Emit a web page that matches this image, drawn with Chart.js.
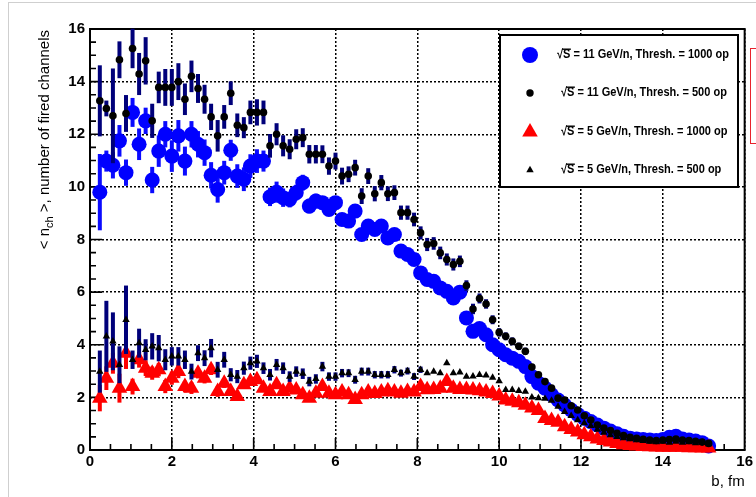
<!DOCTYPE html>
<html>
<head>
<meta charset="utf-8">
<script src="https://cdn.jsdelivr.net/npm/chart.js@4.4.1/dist/chart.umd.min.js"></script>
<style>
  html, body { margin: 0; padding: 0; background: #fff; }
  #wrap { position: relative; width: 756px; height: 497px; overflow: hidden; }
  #pad { position: absolute; left: 8px; top: 2px; width: 900px; height: 700px; border-left: 1px solid #cfcfcf; border-top: 1px solid #cfcfcf; }
  #otherPad { position: absolute; left: 750px; top: 48px; width: 30px; height: 94px; border: 1px solid #e8202a; }
  canvas { position: absolute; left: 0; top: 0; }
</style>
</head>
<body>
<div id="wrap">
  <div id="pad"></div>
  <div id="otherPad"></div>
  <canvas id="chart" width="756" height="497"></canvas>
</div>
<script>
/* impact parameter bin centres, fm */
const bCenters = [
  0.24, 0.40, 0.56, 0.72, 0.88, 1.04, 1.20, 1.36, 1.52, 1.68,
  1.84, 2.00, 2.16, 2.32, 2.48, 2.64, 2.80, 2.96, 3.12, 3.28,
  3.44, 3.60, 3.76, 3.92, 4.08, 4.24, 4.40, 4.56, 4.72, 4.88,
  5.04, 5.20, 5.36, 5.52, 5.68, 5.84, 6.00, 6.16, 6.32, 6.48,
  6.64, 6.80, 6.96, 7.12, 7.28, 7.44, 7.60, 7.76, 7.92, 8.08,
  8.24, 8.40, 8.56, 8.72, 8.88, 9.04, 9.20, 9.36, 9.52, 9.68,
  9.84, 10.00, 10.16, 10.32, 10.48, 10.64, 10.80, 10.96, 11.12, 11.28,
  11.44, 11.60, 11.76, 11.92, 12.08, 12.24, 12.40, 12.56, 12.72, 12.88,
  13.04, 13.20, 13.36, 13.52, 13.68, 13.84, 14.00, 14.16, 14.32, 14.48,
  14.64, 14.80, 14.96, 15.12
];

/* <n_ch> : sqrt(s)=11 GeV/n, threshold 1000 op (blue circles) */
const nch11_1000 = [
  9.80, 10.98, 10.82, 11.75, 10.54, 12.83, 11.62, 12.51, 10.26, 11.36,
  12.00, 11.17, 11.94, 10.98, 12.00, 11.62, 11.30, 10.44, 9.90, 10.54,
  11.39, 10.41, 10.29, 10.79, 10.98, 10.98, 9.62, 9.80, 9.59, 9.52,
  9.78, 10.16, 9.27, 9.46, 9.40, 9.14, 9.40, 8.76, 8.70, 9.08,
  8.19, 8.51, 8.38, 8.51, 8.06, 8.19, 7.56, 7.43, 7.24, 6.73,
  6.48, 6.41, 6.16, 6.03, 5.78, 6.00, 5.02, 4.51, 4.62, 4.38,
  4.00, 3.81, 3.62, 3.49, 3.37, 3.17, 2.79, 2.54, 2.35, 2.10,
  1.90, 1.71, 1.52, 1.35, 1.21, 1.08, 0.95, 0.83, 0.72, 0.62,
  0.52, 0.45, 0.42, 0.40, 0.38, 0.36, 0.40, 0.48, 0.52, 0.42,
  0.38, 0.34, 0.28, 0.15
];
const err11_1000 = [
  1.45, 0.40, 0.50, 0.60, 0.50, 0.55, 0.60, 0.50, 0.50, 0.60,
  0.50, 0.60, 0.60, 0.55, 0.50, 0.50, 0.50, 0.50, 0.50, 0.45,
  0.40, 0.45, 0.45, 0.45, 0.45, 0.40, 0.35, 0.40, 0.35, 0.30,
  0.30, 0.30, 0.28, 0.28, 0.25, 0.25
];

/* sqrt(s)=11 GeV/n, threshold 500 op (black dots) */
const nch11_500 = [
  13.27, 12.98, 12.70, 14.83, 12.79, 15.26, 14.29, 14.79, 12.51, 13.78,
  13.78, 13.78, 14.00, 13.33, 14.20, 13.74, 13.33, 12.66, 11.94, 12.66,
  13.56, 12.34, 12.25, 12.83, 12.83, 12.83, 11.56, 12.00, 11.56, 11.43,
  11.81, 11.87, 11.24, 11.24, 11.24, 10.79, 10.98, 10.41, 10.48, 10.73,
  9.65, 10.41, 9.74, 10.16, 9.74, 9.78, 9.02, 9.02, 8.76, 8.25,
  7.81, 7.85, 7.49, 7.24, 7.05, 7.17, 6.25, 5.36, 5.76, 5.55,
  4.95, 4.47, 4.32, 4.13, 3.94, 3.75, 3.15, 2.86, 2.60, 2.35,
  1.97, 1.90, 1.68, 1.52, 1.30, 1.14, 0.95, 0.83, 0.74, 0.63,
  0.55, 0.48, 0.44, 0.41, 0.38, 0.36, 0.38, 0.40, 0.42, 0.38,
  0.36, 0.33, 0.30, 0.25
];
const err11_500 = [
  1.35, 0.30, 1.80, 0.70, 0.70, 0.75, 0.80, 0.90, 0.65, 0.60,
  0.70, 0.70, 0.70, 0.60, 0.60, 0.55, 0.55, 0.50, 0.60, 0.45,
  0.45, 0.45, 0.40, 0.45, 0.50, 0.45, 0.45, 0.42, 0.40, 0.38,
  0.38, 0.36, 0.35, 0.35, 0.34, 0.33, 0.32, 0.32, 0.30, 0.30,
  0.30, 0.30, 0.29, 0.29, 0.28, 0.28, 0.27, 0.27, 0.26, 0.25,
  0.25, 0.24, 0.24, 0.23, 0.23, 0.22, 0.20, 0.20, 0.19, 0.18,
  0.17, 0.16, 0.15, 0.15, 0.14, 0.14, 0.12
];

/* sqrt(s)=5 GeV/n, threshold 1000 op (red triangles) */
const nch5_1000 = [
  1.97, 2.73, 3.30, 2.35, 3.68, 2.41, 3.43, 3.11, 2.92, 3.05,
  2.41, 2.73, 2.98, 2.41, 2.35, 2.92, 2.73, 3.05, 2.22, 2.54,
  2.22, 2.03, 2.48, 2.60, 2.67, 2.35, 2.22, 2.48, 2.22, 2.35,
  2.28, 2.10, 1.97, 2.16, 2.41, 2.16, 2.10, 2.20, 2.10, 1.92,
  2.10, 2.20, 2.15, 2.20, 2.25, 2.20, 2.16, 2.22, 2.20, 2.41,
  2.29, 2.30, 2.35, 2.60, 2.35, 2.30, 2.30, 2.28, 2.25, 2.20,
  2.15, 2.05, 1.90, 1.85, 1.80, 1.70, 1.60, 1.50, 1.20, 1.12,
  1.05, 0.88, 0.78, 0.68, 0.58, 0.50, 0.42, 0.36, 0.30, 0.25,
  0.20, 0.17, 0.15, 0.13, 0.12, 0.11, 0.10, 0.10, 0.10, 0.10,
  0.09, 0.09, 0.08, 0.08
];
const err5_1000 = [
  0.50, 0.45, 0.40, 0.55, 0.60, 0.30, 0.30, 0.30, 0.25, 0.25,
  0.25, 0.25, 0.25, 0.22, 0.22, 0.20, 0.20, 0.20, 0.20, 0.18
];

/* sqrt(s)=5 GeV/n, threshold 500 op (black triangles) */
const nch5_500 = [
  2.98, 4.32, 4.13, 3.24, 4.95, 3.43, 4.06, 3.81, 3.94, 3.87,
  3.43, 3.56, 3.56, 3.43, 2.98, 3.68, 3.49, 3.87, 3.05, 3.43,
  2.86, 2.79, 3.11, 3.30, 3.37, 3.11, 2.86, 3.24, 3.11, 2.79,
  2.98, 2.90, 2.60, 2.70, 3.17, 2.79, 2.79, 2.92, 2.92, 2.67,
  2.98, 2.98, 2.86, 2.86, 2.86, 3.05, 2.92, 3.00, 2.79, 3.05,
  2.92, 2.98, 2.92, 3.30, 2.92, 2.95, 2.79, 2.80, 2.86, 2.84,
  2.75, 2.62, 2.29, 2.29, 2.25, 2.22, 2.00, 1.97, 1.95, 1.88,
  1.65, 1.45, 1.30, 1.14, 1.02, 0.92, 0.78, 0.66, 0.57, 0.50,
  0.45, 0.41, 0.38, 0.35, 0.32, 0.30, 0.32, 0.28, 0.32, 0.28,
  0.30, 0.26, 0.28, 0.22
];
const err5_500 = [
  0.80, 1.35, 1.10, 0.70, 1.30, 0.35, 0.55, 0.40, 0.50, 0.50,
  0.40, 0.35, 0.35, 0.35, 0.30, 0.30, 0.30, 0.35, 0.30, 0.30,
  0.25, 0.25, 0.25, 0.25, 0.25, 0.22, 0.22, 0.22, 0.22, 0.20,
  0.20, 0.20, 0.18, 0.18, 0.18, 0.16, 0.16, 0.16, 0.15, 0.15,
  0.15, 0.15, 0.14, 0.14, 0.14, 0.14, 0.13, 0.13, 0.13, 0.12
];

const legendLabels = [
  ' = 11 GeV/n, Thresh. = 1000 op',
  ' = 11 GeV/n, Thresh. = 500 op',
  ' = 5 GeV/n, Thresh. = 1000 op',
  ' = 5 GeV/n, Thresh. = 500 op'
];

const FONT = "'Liberation Sans', Arial, Helvetica, sans-serif";
const toPoints = vals => bCenters.map((b, i) => ({ x: b, y: vals[i] }));

/* error bars drawn just before each dataset's markers */
const errorBars = {
  id: 'errorBars',
  beforeDatasetDraw(chart, args) {
    const ds = chart.data.datasets[args.index];
    if (!ds.errors) return;
    const yScale = chart.scales.y, ctx = chart.ctx;
    ctx.save();
    ctx.strokeStyle = ds.errorColor;
    ctx.lineWidth = 4;
    args.meta.data.forEach((pt, i) => {
      const e = ds.errors[i] || 0;
      if (!e) return;
      const v = ds.data[i].y;
      ctx.beginPath();
      ctx.moveTo(pt.x, yScale.getPixelForValue(v + e));
      ctx.lineTo(pt.x, yScale.getPixelForValue(v - e));
      ctx.stroke();
    });
    ctx.restore();
  }
};

/* ROOT-like frame with inward ticks */
const rootFrame = {
  id: 'rootFrame',
  beforeDatasetsDraw(chart) {
    const { ctx, chartArea: a, scales: { x, y } } = chart;
    ctx.save();
    ctx.strokeStyle = '#000';
    ctx.lineWidth = 2;
    ctx.strokeRect(a.left, a.top, a.right - a.left, a.bottom - a.top);
    ctx.lineWidth = 1.6;
    for (let v = 0.5; v < 16; v += 0.5) {
      const len = v % 2 === 0 ? 12 : 6;
      const px = x.getPixelForValue(v), py = y.getPixelForValue(v);
      ctx.beginPath();
      ctx.moveTo(px, a.bottom); ctx.lineTo(px, a.bottom - len);
      ctx.moveTo(a.left, py); ctx.lineTo(a.left + len, py);
      ctx.stroke();
    }
    ctx.restore();
  }
};

function drawMarker(ctx, style, x, y, r, color) {
  ctx.fillStyle = color;
  ctx.beginPath();
  if (style === 'circle') {
    ctx.arc(x, y, r, 0, Math.PI * 2);
  } else {
    ctx.moveTo(x, y - r);
    ctx.lineTo(x + r * 0.866, y + r * 0.5);
    ctx.lineTo(x - r * 0.866, y + r * 0.5);
    ctx.closePath();
  }
  ctx.fill();
}

/* axis titles and the legend box */
const annotations = {
  id: 'annotations',
  afterDraw(chart) {
    const { ctx, chartArea: a } = chart;
    ctx.save();
    ctx.fillStyle = '#000';

    // y title, rotated, right-aligned to top of the axis
    ctx.save();
    ctx.translate(49, a.top + 1);
    ctx.rotate(-Math.PI / 2);
    ctx.textBaseline = 'alphabetic';
    const big = '15px ' + FONT, small = '11px ' + FONT;
    const parts = [['< n', big, 0], ['ch', small, 4], [' >, number of fired channels', big, 0]];
    let total = 0;
    parts.forEach(p => { ctx.font = p[1]; total += ctx.measureText(p[0]).width; });
    let cx = -total;
    parts.forEach(p => { ctx.font = p[1]; ctx.fillText(p[0], cx, p[2]); cx += ctx.measureText(p[0]).width; });
    ctx.restore();

    // x title
    ctx.font = '15px ' + FONT;
    ctx.textAlign = 'right';
    ctx.textBaseline = 'alphabetic';
    ctx.fillText('b, fm', a.right, 486);

    // legend
    const lx = 500, ly = 35, lw = 238, lh = 152;
    ctx.fillStyle = '#fff';
    ctx.fillRect(lx, ly, lw, lh);
    ctx.strokeStyle = '#000';
    ctx.lineWidth = 2;
    ctx.strokeRect(lx, ly, lw, lh);
    const ds = chart.data.datasets;
    const rowsY = [55, 93, 132, 170];
    const legendR = [8, 3.7, 9, 4.3];
    ctx.textAlign = 'left';
    ctx.textBaseline = 'middle';
    ctx.font = 'bold 12.5px ' + FONT;
    const rootW = ctx.measureText('\u221A').width;
    const sW = ctx.measureText('S').width;
    const fullW = ctx.measureText('\u221AS' + legendLabels[0]).width;
    const sx = 172 / fullW;
    legendLabels.forEach((lab, i) => {
      const d = ds[i];
      drawMarker(ctx, d.pointStyle, 530, rowsY[i], legendR[i], d.backgroundColor);
      const tx = i === 0 ? 557 : 561;
      ctx.save();
      ctx.translate(tx, rowsY[i]);
      ctx.scale(sx, 1);
      ctx.fillStyle = '#000';
      ctx.fillText('\u221AS' + lab, 0, 0);
      ctx.fillRect(rootW - 1, -6.5, sW + 1.5, 1.4);
      ctx.restore();
    });
    ctx.restore();
  }
};

const tickFont = { family: FONT, size: 15, weight: 'bold' };

new Chart(document.getElementById('chart'), {
  type: 'scatter',
  data: {
    datasets: [
      { label: '11 GeV/n, 1000 op', data: toPoints(nch11_1000), errors: err11_1000, errorColor: '#0a0aff',
        pointStyle: 'circle', pointRadius: 7.5, backgroundColor: '#0000ff', borderWidth: 0, order: 4, clip: false },
      { label: '11 GeV/n, 500 op', data: toPoints(nch11_500), errors: err11_500, errorColor: '#00007a',
        pointStyle: 'circle', pointRadius: 3.8, backgroundColor: '#000000', borderWidth: 0, order: 2, clip: false },
      { label: '5 GeV/n, 1000 op', data: toPoints(nch5_1000), errors: err5_1000, errorColor: '#ff0000',
        pointStyle: 'triangle', pointRadius: 9, backgroundColor: '#ff0000', borderWidth: 0, order: 3, clip: false },
      { label: '5 GeV/n, 500 op', data: toPoints(nch5_500), errors: err5_500, errorColor: '#00007a',
        pointStyle: 'triangle', pointRadius: 4.3, backgroundColor: '#000000', borderWidth: 0, order: 1, clip: false }
    ]
  },
  options: {
    responsive: false,
    animation: false,
    events: [],
    layout: { padding: { top: 29, right: 9, left: 0, bottom: 0 } },
    plugins: { legend: { display: false }, tooltip: { enabled: false } },
    scales: {
      x: {
        type: 'linear', min: 0, max: 16,
        afterFit: s => { s.height = 47; },
        ticks: { stepSize: 2, autoSkip: false, maxRotation: 0, padding: 3, color: '#000', font: tickFont },
        grid: { color: '#000', lineWidth: 1.5, drawTicks: false },
        border: { display: false, dash: [2, 2] }
      },
      y: {
        type: 'linear', min: 0, max: 16,
        afterFit: s => { s.width = 90; },
        ticks: { stepSize: 2, autoSkip: false, padding: 5, color: '#000', font: tickFont },
        grid: { color: '#000', lineWidth: 1.5, drawTicks: false },
        border: { display: false, dash: [2, 2] }
      }
    }
  },
  plugins: [errorBars, rootFrame, annotations]
});
</script>
</body>
</html>
